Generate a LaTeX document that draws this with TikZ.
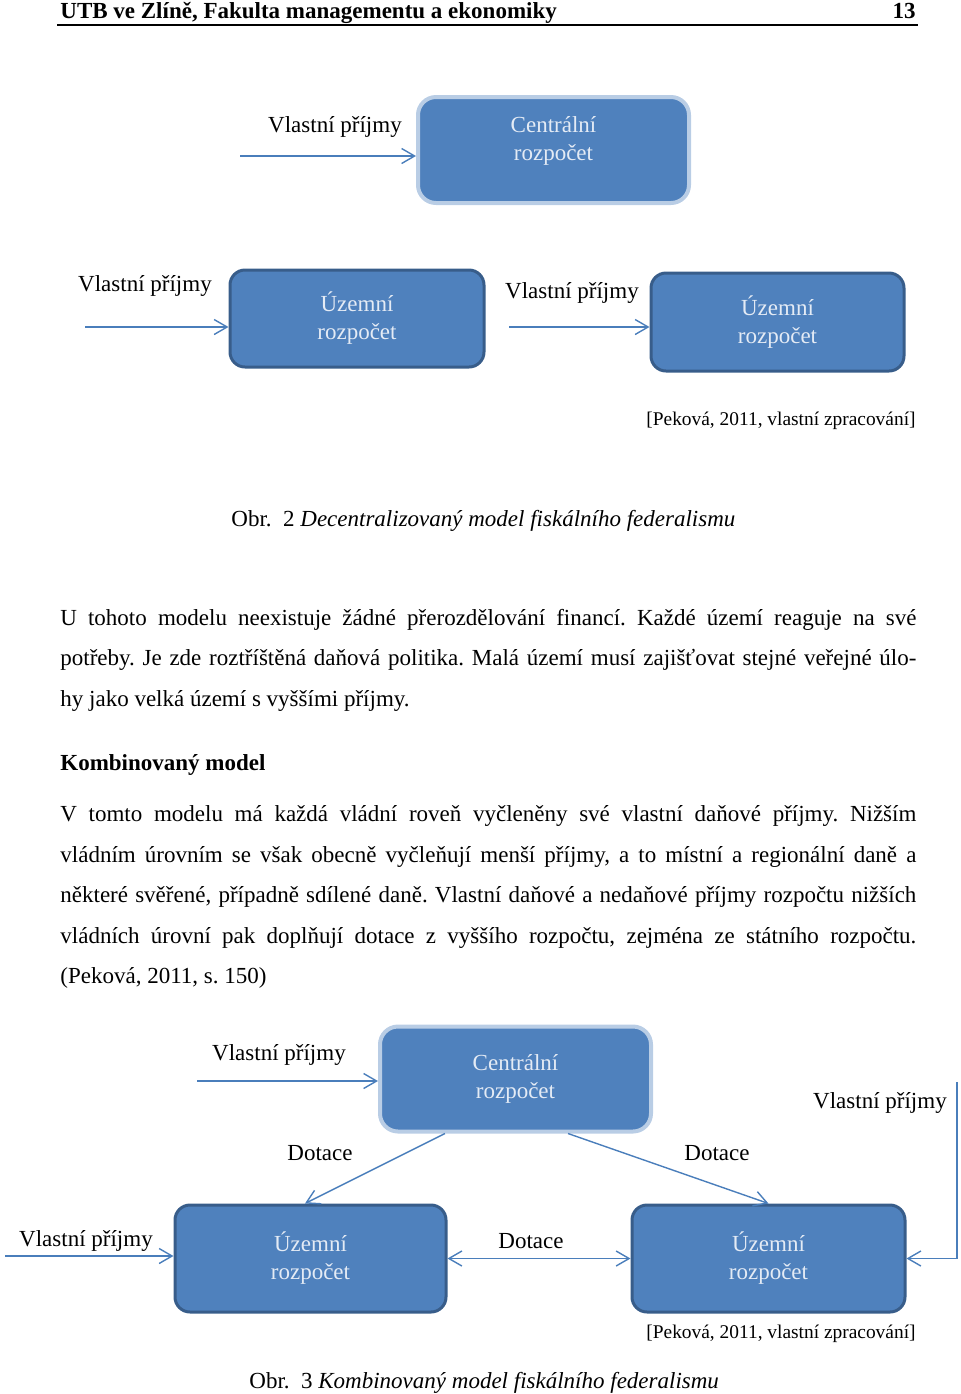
\documentclass[tikz,border=0pt]{standalone}
\usepackage{fontspec}
\setmainfont{Liberation Serif}
\usetikzlibrary{arrows.meta}

\definecolor{boxblue}{HTML}{4F81BD}
\definecolor{boxedge}{HTML}{385D8A}
\definecolor{boxhalo}{HTML}{B9CDE5}
\definecolor{arrowblue}{HTML}{4A7EBB}
\definecolor{boxtxt}{HTML}{E4EBF5}

\newcommand\basesize{\fontsize{11.5pt}{14pt}\selectfont\frenchspacing}
\newcommand\srcsize{\fontsize{9.7pt}{12pt}\selectfont\frenchspacing}

\begin{document}
\begin{tikzpicture}[x=0.5pt,y=-0.5pt,
  every node/.style={font=\basesize, inner sep=0pt},
  txt/.style={anchor=base west},
  budget/.style={rectangle, rounded corners=7.5pt, fill=boxblue, draw=boxedge,
    line width=1.5pt, text=boxtxt, align=center},
  central/.style={budget, draw=boxhalo, line width=2pt, rounded corners=9pt},
  >={Straight Barb[length=6.5pt,width=7.5pt]},
  flow/.style={draw=arrowblue, line width=0.7pt, ->}]
\useasboundingbox (0,0) rectangle (960,1394);

% page head
\node[txt, font={\basesize\bfseries}] (head) at (60,18) {UTB ve Zlíně, Fakulta managementu a ekonomiky};
\node[txt, anchor=base east, font={\basesize\bfseries}] (page) at (916,18) {13};
\draw[line width=0.6pt] (57,25) -- (918,25);

% decentralised model
\node[central, minimum width=135.5pt, minimum height=53pt, text depth=11.5pt] (cen1) at (553.5,150) {Centrální\\rozpočet};
\node[budget, minimum width=127pt, minimum height=48.5pt] (ter1) at (357,318.5) {Územní\\rozpočet};
\node[budget, minimum width=126.5pt, minimum height=49pt] (ter2) at (777.5,322) {Územní\\rozpočet};

\node (v1) at (335,127) {Vlastní příjmy};
\node (v2) at (145,286) {Vlastní příjmy};
\node (v3) at (572,293) {Vlastní příjmy};

\coordinate (s1) at (240,156);
\coordinate (s2) at (85,327);
\coordinate (s3) at (509,327);
\draw[flow] (s1) -- (s1 -| cen1.west);
\draw[flow] (s2) -- (s2 -| ter1.west);
\draw[flow] (s3) -- (s3 -| ter2.west);

\node[txt, anchor=base east, font=\srcsize] (src1) at (916,425) {[Peková, 2011, vlastní zpracování]};
\node[txt] (cap1) at (231,526) {Obr.\ \ 2 \textit{Decentralizovaný model fiskálního federalismu}};

% text
\node[txt] (p1a) at (60,625) {\makebox[428pt][s]{U tohoto modelu neexistuje žádné přerozdělování financí. Každé území reaguje na své}};
\node[txt] (p1b) at (60,665) {\makebox[428pt][s]{potřeby. Je zde roztříštěná daňová politika. Malá území musí zajišťovat stejné veřejné úlo-}};
\node[txt] (p1c) at (60,706) {hy jako velká území s vyššími příjmy.};

\node[txt, font={\basesize\bfseries}] (sec) at (60,770) {Kombinovaný model};

\node[txt] (p2a) at (60,821) {\makebox[428pt][s]{V tomto modelu má každá vládní roveň vyčleněny své vlastní daňové příjmy. Nižším}};
\node[txt] (p2b) at (60,862) {\makebox[428pt][s]{vládním úrovním se však obecně vyčleňují menší příjmy, a to místní a regionální daně a}};
\node[txt] (p2c) at (60,902) {\makebox[428pt][s]{některé svěřené, případně sdílené daně. Vlastní daňové a nedaňové příjmy rozpočtu nižších}};
\node[txt] (p2d) at (60,943) {\makebox[428pt][s]{vládních úrovní pak doplňují dotace z vyššího rozpočtu, zejména ze státního rozpočtu.}};
\node[txt] (p2e) at (60,983) {(Peková, 2011, s. 150)};

% combined model
\node[central, minimum width=135.5pt, minimum height=52.5pt] (cen2) at (515.5,1079) {Centrální\\rozpočet};
\node[budget, minimum width=135.5pt, minimum height=53.5pt] (ter3) at (310.5,1258.5) {Územní\\rozpočet};
\node[budget, minimum width=136.5pt, minimum height=53.5pt] (ter4) at (768.5,1258.5) {Územní\\rozpočet};

\node (v4) at (279,1055) {Vlastní příjmy};
\node (v5) at (86,1241) {Vlastní příjmy};
\node (v6) at (880,1103) {Vlastní příjmy};
\node (d1) at (320,1153) {Dotace};
\node (d2) at (717,1153) {Dotace};
\node (d3) at (531,1241) {Dotace};

\coordinate (s4) at (197,1081);
\coordinate (s5) at (5,1256);
\coordinate (s6) at (957,1082);
\draw[flow] (s4) -- (s4 -| cen2.west);
\draw[flow] (cen2.south -| 445,0) -- (ter3.north -| 305,0);
\draw[flow] (cen2.south -| 568,0) -- (ter4.north);
\draw[flow] (s5) -- (s5 -| ter3.west);
\draw[flow, <->] (ter3.east) -- (ter4.west);
\draw[flow] (s6) |- (ter4.east);

\node[txt, anchor=base east, font=\srcsize] (src2) at (916,1338) {[Peková, 2011, vlastní zpracování]};
\node[txt] (cap2) at (249,1388) {Obr.\ \ 3 \textit{Kombinovaný model fiskálního federalismu}};

\end{tikzpicture}
\end{document}
